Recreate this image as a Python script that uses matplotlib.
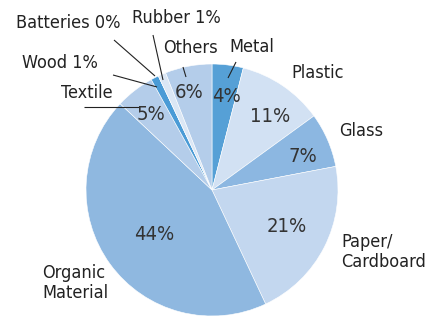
import matplotlib
matplotlib.use("Agg")
import matplotlib.pyplot as plt
from matplotlib import font_manager
from matplotlib.font_manager import FontProperties

# Municipal waste composition
categories = ["Metal", "Plastic", "Glass", "Paper/\nCardboard", "Organic\nMaterial",
              "Textile", "Wood", "Batteries", "Rubber", "Others"]
shares = [4, 11, 7, 21, 44, 5, 1, 0, 1, 6]
colors = ["#56a0d6", "#d2e1f3", "#8cb7e1", "#c3d7ef", "#8fb8e0",
          "#b4cdea", "#4a9bd6", "#4a9bd6", "#dbe7f5", "#b4cdea"]


def is_narrow(f):
    nm = f.name.lower()
    fn = f.fname.lower()
    return ("narrow" in nm or "condensed" in nm or "narrow" in fn or "condensed" in fn
            or str(f.stretch) in ("condensed", "semi-condensed",
                                  "extra-condensed", "ultra-condensed"))


def weight_of(f):
    return f.weight if isinstance(f.weight, int) else 400


def pick(cands, target_weight):
    best = None
    for f in cands:
        score = abs(weight_of(f) - target_weight)
        if best is None or score < best[0]:
            best = (score, f)
    return best[1] if best else None


upright = [f for f in font_manager.fontManager.ttflist
           if is_narrow(f) and f.style == "normal" and "italic" not in f.fname.lower()]
lab_face = pick(upright, 400)
if lab_face is not None:
    same = [f for f in upright
            if f.name == lab_face.name and f.stretch == lab_face.stretch
            and ("extra" in f.fname.lower()) == ("extra" in lab_face.fname.lower())
            and ("semi" in f.fname.lower()) == ("semi" in lab_face.fname.lower())]
    pct_face = pick(same, 300) or lab_face
    fp_lab = FontProperties(fname=lab_face.fname)
    fp_pct = FontProperties(fname=pct_face.fname)
    lab_fs, pct_fs = 13, 14.5
else:
    fp_lab = FontProperties(family="DejaVu Sans")
    fp_pct = FontProperties(family="DejaVu Sans")
    lab_fs, pct_fs = 11, 12

W, H = 432, 320
fig = plt.figure(figsize=(W / 100, H / 100), dpi=100)
ax = fig.add_axes([0, 0, 1, 1])

cx, cy, R = 212, 130, 126
ax.pie(shares, colors=colors, startangle=90, counterclock=False,
       center=(cx, cy), radius=R, frame=True,
       wedgeprops=dict(edgecolor="white", linewidth=0.4))
ax.set_xlim(0, W)
ax.set_ylim(0, H)
ax.set_aspect("equal")
ax.axis("off")


def fmt(v):
    return f"{v}%"


txt = "#222222"
pct_col = "#333333"

# Percent labels inside the wedges (y measured upward)
pct_pos = {
    "Metal": (226, 224), "Plastic": (270, 203), "Glass": (303, 163),
    "Paper/\nCardboard": (287, 94), "Organic\nMaterial": (154, 85),
    "Textile": (151, 205), "Others": (189, 227),
}
for c, v in zip(categories, shares):
    if c in pct_pos:
        x, y = pct_pos[c]
        ax.text(x, y, fmt(v), ha="center", va="center", fontproperties=fp_pct,
                fontsize=pct_fs, color=pct_col)


def label(x, y, s, ha="center"):
    ax.text(x, y, s, ha=ha, va="center", fontproperties=fp_lab, fontsize=lab_fs,
            color=txt, linespacing=1.15)


label(252, 273, "Metal")
label(318, 247, "Plastic")
label(361, 189, "Glass")
label(341, 68, "Paper/\nCardboard", ha="left")
label(42, 37, "Organic\nMaterial", ha="left")
label(87, 227, "Textile")
label(60, 257, f"Wood {fmt(shares[6])}")
label(68, 297, f"Batteries {fmt(shares[7])}")
label(176, 302, f"Rubber {fmt(shares[8])}")
label(190, 272, "Others")

# Leader lines
leaders = [
    ((236, 258), (228, 242)),   # Metal
    ((84, 213), (139, 213)),    # Textile
    ((113, 245), (157, 233)),   # Wood
    ((114, 280), (155, 244)),   # Batteries
    ((153, 285), (163, 240)),   # Rubber
    ((183, 253), (186, 243)),   # Others
]
for (x0, y0), (x1, y1) in leaders:
    ax.plot([x0, x1], [y0, y1], color="#222222", lw=0.8, solid_capstyle="butt")

fig.savefig("out.png", dpi=100, facecolor="white")
